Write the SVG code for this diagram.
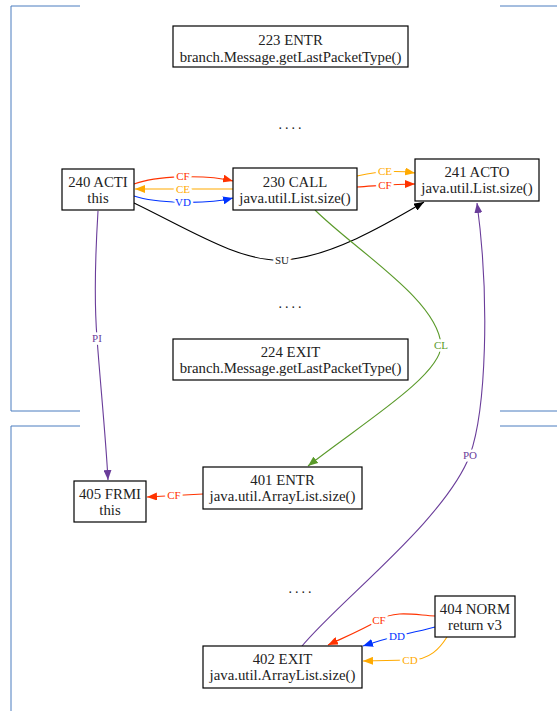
<svg xmlns="http://www.w3.org/2000/svg" width="557" height="711" viewBox="0 0 557 711">
<style>
.n rect{fill:#fff;stroke:#000;stroke-width:1.2}
.n text{font-family:"Liberation Serif",serif;font-size:14.8px;fill:#222;text-anchor:middle}
.dots{font-family:"Liberation Serif",serif;font-size:14px;fill:#222;text-anchor:middle;letter-spacing:3px}
.e path{fill:none;stroke-width:1.1}
.e text{font-family:"Liberation Serif",serif;font-size:11px;text-anchor:middle;paint-order:stroke;stroke:#fff;stroke-width:5px}
.cl{fill:none;stroke:#4a7dbf;stroke-width:1}
.red{stroke:#ff3300}.redt{fill:#ff3300}
.org{stroke:#ffaa00}.orgt{fill:#ffaa00}
.blu{stroke:#0033ff}.blut{fill:#0033ff}
.blk{stroke:#000}.blkt{fill:#222}
.grn{stroke:#5a9a2a}.grnt{fill:#5a9a2a}
.pur{stroke:#6a3d9a}.purt{fill:#6a3d9a}
</style>
<defs>
<marker id="ar" viewBox="0 0 10 8" refX="10" refY="4" markerWidth="10" markerHeight="8" markerUnits="userSpaceOnUse" orient="auto"><path d="M0,0 L10,4 L0,8 z" fill="#ff3300"/></marker>
<marker id="ao" viewBox="0 0 10 8" refX="10" refY="4" markerWidth="10" markerHeight="8" markerUnits="userSpaceOnUse" orient="auto"><path d="M0,0 L10,4 L0,8 z" fill="#ffaa00"/></marker>
<marker id="ab" viewBox="0 0 10 8" refX="10" refY="4" markerWidth="10" markerHeight="8" markerUnits="userSpaceOnUse" orient="auto"><path d="M0,0 L10,4 L0,8 z" fill="#0033ff"/></marker>
<marker id="ak" viewBox="0 0 10 8" refX="10" refY="4" markerWidth="10" markerHeight="8" markerUnits="userSpaceOnUse" orient="auto"><path d="M0,0 L10,4 L0,8 z" fill="#000"/></marker>
<marker id="ag" viewBox="0 0 10 8" refX="10" refY="4" markerWidth="10" markerHeight="8" markerUnits="userSpaceOnUse" orient="auto"><path d="M0,0 L10,4 L0,8 z" fill="#5a9a2a"/></marker>
<marker id="ap" viewBox="0 0 10 8" refX="10" refY="4" markerWidth="10" markerHeight="8" markerUnits="userSpaceOnUse" orient="auto"><path d="M0,0 L10,4 L0,8 z" fill="#6a3d9a"/></marker>
</defs>
<rect width="557" height="711" fill="#fff"/>
<g id="clusters">
<path class="cl" d="M80,6 H11 V411 H80 M500,6 H557 M500,411 H557"/>
<path class="cl" d="M80,426 H11 V711 M500,426 H557"/>
</g>
<text class="dots" x="291.5" y="129">....</text>
<text class="dots" x="291.5" y="308">....</text>
<text class="dots" x="301.5" y="593">....</text>
<g id="edges" class="e">
<path class="red" marker-end="url(#ar)" d="M134,184 C155,176 205,174 233,181"/>
<text class="redt" x="183" y="180">CF</text>
<path class="org" marker-end="url(#ao)" d="M233,189 L135,189"/>
<text class="orgt" x="183" y="193">CE</text>
<path class="blu" marker-end="url(#ab)" d="M134,196 C155,203 205,205 233,198"/>
<text class="blut" x="183" y="206">VD</text>
<path class="org" marker-end="url(#ao)" d="M357,176 C375,172 395,170 415,173"/>
<text class="orgt" x="385" y="175">CE</text>
<path class="red" marker-end="url(#ar)" d="M357,187 C375,186 395,184 415,184"/>
<text class="redt" x="385" y="189">CF</text>
<path class="blk" marker-end="url(#ak)" d="M134,203 C190,230 240,262 282,260 C330,258 390,222 424,202"/>
<text class="blkt" x="282" y="264">SU</text>
<path class="grn" marker-end="url(#ag)" d="M315,210 C355,250 438,300 441,345 C442,375 360,425 308,466"/>
<text class="grnt" x="441" y="349">CL</text>
<path class="pur" marker-end="url(#ap)" d="M98,211 C95,260 94,300 97,338 C100,380 106,440 108,480"/>
<text class="purt" x="97" y="342">PI</text>
<path class="pur" marker-end="url(#ap)" d="M302,646 C340,600 445,520 470,455 C486,410 490,300 477,203"/>
<text class="purt" x="470" y="459">PO</text>
<path class="red" marker-end="url(#ar)" d="M203,494 L147,497"/>
<text class="redt" x="174" y="499">CF</text>
<path class="red" marker-end="url(#ar)" d="M435,616 C415,615 395,610 379,620 C362,630 345,637 328,645"/>
<text class="redt" x="379" y="624">CF</text>
<path class="blu" marker-end="url(#ab)" d="M435,627 C420,631 410,633 397,636 C385,639 375,642 363,646"/>
<text class="blut" x="397" y="640">DD</text>
<path class="org" marker-end="url(#ao)" d="M447,637 C440,648 430,660 410,660 L363,661"/>
<text class="orgt" x="410" y="664">CD</text>
</g>
<g id="n223" class="n"><rect x="173" y="26" width="235" height="41"/><text x="290.5" y="45">223 ENTR</text><text x="290.5" y="62">branch.Message.getLastPacketType()</text></g>
<g id="n240" class="n"><rect x="62" y="169" width="72" height="41"/><text x="98" y="187">240 ACTI</text><text x="98" y="203">this</text></g>
<g id="n230" class="n"><rect x="233" y="168" width="124" height="42"/><text x="295" y="187">230 CALL</text><text x="295" y="203">java.util.List.size()</text></g>
<g id="n241" class="n"><rect x="415" y="159" width="124" height="42"/><text x="477" y="177">241 ACTO</text><text x="477" y="193">java.util.List.size()</text></g>
<g id="n224" class="n"><rect x="173" y="339" width="235" height="41"/><text x="290.5" y="357">224 EXIT</text><text x="290.5" y="373">branch.Message.getLastPacketType()</text></g>
<g id="n401" class="n"><rect x="203" y="467" width="159" height="42"/><text x="282.5" y="485">401 ENTR</text><text x="282.5" y="501">java.util.ArrayList.size()</text></g>
<g id="n405" class="n"><rect x="74" y="481" width="72" height="41"/><text x="110" y="499">405 FRMI</text><text x="110" y="515">this</text></g>
<g id="n404" class="n"><rect x="435" y="596" width="80" height="41"/><text x="475" y="614">404 NORM</text><text x="475" y="630">return v3</text></g>
<g id="n402" class="n"><rect x="203" y="646" width="159" height="42"/><text x="282.5" y="664">402 EXIT</text><text x="282.5" y="680">java.util.ArrayList.size()</text></g>
</svg>
